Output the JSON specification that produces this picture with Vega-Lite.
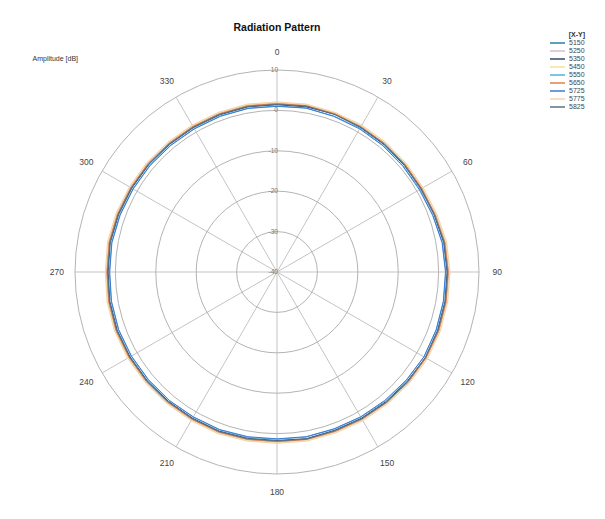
{
  "$schema": "https://vega.github.io/schema/vega-lite/v6.json",
  "width": 605,
  "height": 519,
  "autosize": "none",
  "padding": 0,
  "background": "white",
  "config": {"view": {"stroke": null}, "font": "Liberation Sans"},
  "title": {"text": "Radiation Pattern", "fontSize": 10.5, "fontWeight": "bold", "font": "Liberation Sans", "color": "#111", "anchor": "middle", "frame": "group", "orient": "top", "offset": 0, "baseline": "alphabetic", "dy": 41, "dx": -25.5},
  "datasets": {
    "levels": [{"v": 10}, {"v": 0}, {"v": -10}, {"v": -20}, {"v": -30}, {"v": -40}],
    "spokes": [{"a": 0}, {"a": 30}, {"a": 60}, {"a": 90}, {"a": 120}, {"a": 150}, {"a": 180}, {"a": 210}, {"a": 240}, {"a": 270}, {"a": 300}, {"a": 330}],
    "pattern": [
      {"a": 0, "5150": 1.6, "5250": 1.8, "5350": 1.4, "5450": 2.0, "5550": 1.1, "5650": 1.7, "5725": 1.0, "5775": 2.1, "5825": 1.5},
      {"a": 10, "5150": 1.7, "5250": 2.0, "5350": 1.5, "5450": 2.1, "5550": 1.2, "5650": 1.8, "5725": 1.2, "5775": 2.2, "5825": 1.7},
      {"a": 20, "5150": 1.6, "5250": 1.8, "5350": 1.6, "5450": 2.0, "5550": 1.1, "5650": 1.7, "5725": 1.0, "5775": 2.0, "5825": 1.5},
      {"a": 30, "5150": 1.5, "5250": 1.7, "5350": 1.3, "5450": 1.9, "5550": 1.1, "5650": 1.5, "5725": 0.9, "5775": 2.0, "5825": 1.4},
      {"a": 40, "5150": 1.3, "5250": 1.6, "5350": 1.2, "5450": 1.8, "5550": 0.9, "5650": 1.5, "5725": 0.8, "5775": 1.9, "5825": 1.3},
      {"a": 50, "5150": 1.3, "5250": 1.5, "5350": 1.1, "5450": 1.7, "5550": 0.8, "5650": 1.4, "5725": 0.7, "5775": 1.8, "5825": 1.2},
      {"a": 60, "5150": 1.3, "5250": 1.4, "5350": 1.2, "5450": 1.7, "5550": 0.9, "5650": 1.4, "5725": 0.7, "5775": 1.8, "5825": 1.1},
      {"a": 70, "5150": 1.6, "5250": 1.8, "5350": 1.4, "5450": 2.0, "5550": 1.1, "5650": 1.6, "5725": 1.0, "5775": 2.1, "5825": 1.5},
      {"a": 80, "5150": 2.1, "5250": 2.3, "5350": 1.9, "5450": 2.6, "5550": 1.6, "5650": 2.2, "5725": 1.5, "5775": 2.6, "5825": 2.0},
      {"a": 90, "5150": 2.3, "5250": 2.5, "5350": 2.1, "5450": 2.8, "5550": 1.8, "5650": 2.4, "5725": 1.7, "5775": 2.8, "5825": 2.2},
      {"a": 100, "5150": 2.4, "5250": 2.6, "5350": 2.2, "5450": 2.8, "5550": 1.9, "5650": 2.5, "5725": 1.8, "5775": 2.9, "5825": 2.3},
      {"a": 110, "5150": 2.5, "5250": 2.7, "5350": 2.3, "5450": 2.9, "5550": 2.0, "5650": 2.6, "5725": 1.9, "5775": 3.0, "5825": 2.4},
      {"a": 120, "5150": 2.5, "5250": 2.6, "5350": 2.4, "5450": 2.9, "5550": 2.0, "5650": 2.6, "5725": 2.0, "5775": 3.0, "5825": 2.4},
      {"a": 130, "5150": 2.3, "5250": 2.5, "5350": 2.1, "5450": 2.7, "5550": 1.8, "5650": 2.4, "5725": 1.7, "5775": 2.8, "5825": 2.2},
      {"a": 140, "5150": 2.1, "5250": 2.3, "5350": 1.9, "5450": 2.5, "5550": 1.7, "5650": 2.2, "5725": 1.5, "5775": 2.6, "5825": 2.1},
      {"a": 150, "5150": 2.0, "5250": 2.2, "5350": 1.8, "5450": 2.4, "5550": 1.5, "5650": 2.1, "5725": 1.4, "5775": 2.5, "5825": 1.9},
      {"a": 160, "5150": 1.9, "5250": 2.1, "5350": 1.7, "5450": 2.3, "5550": 1.4, "5650": 2.0, "5725": 1.3, "5775": 2.4, "5825": 1.8},
      {"a": 170, "5150": 2.0, "5250": 2.2, "5350": 1.9, "5450": 2.4, "5550": 1.5, "5650": 2.1, "5725": 1.4, "5775": 2.5, "5825": 2.0},
      {"a": 180, "5150": 1.9, "5250": 2.1, "5350": 1.7, "5450": 2.3, "5550": 1.4, "5650": 2.0, "5725": 1.3, "5775": 2.4, "5825": 1.8},
      {"a": 190, "5150": 2.0, "5250": 2.2, "5350": 1.8, "5450": 2.4, "5550": 1.6, "5650": 2.1, "5725": 1.4, "5775": 2.5, "5825": 1.9},
      {"a": 200, "5150": 2.1, "5250": 2.3, "5350": 1.9, "5450": 2.5, "5550": 1.6, "5650": 2.2, "5725": 1.5, "5775": 2.6, "5825": 2.0},
      {"a": 210, "5150": 2.0, "5250": 2.2, "5350": 1.8, "5450": 2.4, "5550": 1.5, "5650": 2.1, "5725": 1.4, "5775": 2.5, "5825": 1.9},
      {"a": 220, "5150": 2.0, "5250": 2.3, "5350": 1.8, "5450": 2.4, "5550": 1.5, "5650": 2.1, "5725": 1.5, "5775": 2.5, "5825": 1.9},
      {"a": 230, "5150": 2.1, "5250": 2.3, "5350": 1.9, "5450": 2.5, "5550": 1.6, "5650": 2.2, "5725": 1.5, "5775": 2.6, "5825": 2.0},
      {"a": 240, "5150": 2.2, "5250": 2.4, "5350": 2.0, "5450": 2.6, "5550": 1.7, "5650": 2.3, "5725": 1.6, "5775": 2.7, "5825": 2.1},
      {"a": 250, "5150": 2.3, "5250": 2.5, "5350": 2.1, "5450": 2.7, "5550": 1.8, "5650": 2.4, "5725": 1.7, "5775": 2.8, "5825": 2.2},
      {"a": 260, "5150": 2.2, "5250": 2.4, "5350": 2.0, "5450": 2.6, "5550": 1.7, "5650": 2.3, "5725": 1.6, "5775": 2.7, "5825": 2.1},
      {"a": 270, "5150": 2.0, "5250": 2.2, "5350": 1.8, "5450": 2.4, "5550": 1.5, "5650": 2.1, "5725": 1.4, "5775": 2.5, "5825": 1.9},
      {"a": 280, "5150": 2.1, "5250": 2.3, "5350": 1.9, "5450": 2.5, "5550": 1.6, "5650": 2.2, "5725": 1.5, "5775": 2.6, "5825": 2.0},
      {"a": 290, "5150": 1.9, "5250": 2.1, "5350": 1.7, "5450": 2.3, "5550": 1.4, "5650": 2.0, "5725": 1.3, "5775": 2.4, "5825": 1.8},
      {"a": 300, "5150": 1.7, "5250": 1.9, "5350": 1.5, "5450": 2.1, "5550": 1.2, "5650": 1.8, "5725": 1.1, "5775": 2.2, "5825": 1.6},
      {"a": 310, "5150": 1.6, "5250": 1.8, "5350": 1.4, "5450": 2.0, "5550": 1.1, "5650": 1.7, "5725": 1.0, "5775": 2.1, "5825": 1.5},
      {"a": 320, "5150": 1.5, "5250": 1.7, "5350": 1.3, "5450": 1.9, "5550": 1.0, "5650": 1.6, "5725": 0.9, "5775": 2.0, "5825": 1.4},
      {"a": 330, "5150": 1.5, "5250": 1.7, "5350": 1.3, "5450": 1.9, "5550": 1.0, "5650": 1.6, "5725": 0.9, "5775": 2.0, "5825": 1.4},
      {"a": 340, "5150": 1.6, "5250": 1.8, "5350": 1.4, "5450": 2.0, "5550": 1.1, "5650": 1.7, "5725": 1.0, "5775": 2.1, "5825": 1.5},
      {"a": 350, "5150": 1.7, "5250": 1.9, "5350": 1.5, "5450": 2.1, "5550": 1.2, "5650": 1.8, "5725": 1.1, "5775": 2.2, "5825": 1.6},
      {"a": 360, "5150": 1.6, "5250": 1.8, "5350": 1.4, "5450": 2.0, "5550": 1.1, "5650": 1.7, "5725": 1.0, "5775": 2.1, "5825": 1.5}
    ]
  },
  "layer": [
    {
      "data": {"name": "spokes"},
      "transform": [
        {"calculate": "50*sin(datum.a*PI/180)", "as": "ex"},
        {"calculate": "50*cos(datum.a*PI/180)", "as": "ey"},
        {"calculate": "0", "as": "z"}
      ],
      "mark": {"type": "rule", "color": "#c4c4c4", "strokeWidth": 1},
      "encoding": {
        "x": {"field": "ex", "type": "quantitative", "scale": {"domain": [-68.564, 81.188], "nice": false, "zero": false}, "axis": null},
        "y": {"field": "ey", "type": "quantitative", "scale": {"domain": [-61.139, 67.327], "nice": false, "zero": false}, "axis": {"title": "Amplitude [dB]", "labels": false, "ticks": false, "domain": false, "grid": false, "titleAngle": 0, "titleX": 32, "titleY": 58, "titleAlign": "left", "titleBaseline": "middle", "titleFontSize": 7, "titleFontWeight": "normal", "titleColor": "#333", "titleFont": "Liberation Sans"}},
        "x2": {"field": "z"},
        "y2": {"field": "z"}
      }
    },
    {
      "data": {"name": "levels"},
      "transform": [{"calculate": "0", "as": "z"}, {"calculate": "datum.v + 40", "as": "r"}],
      "mark": {"type": "point", "shape": "circle", "filled": false, "stroke": "#b4b4b4", "strokeWidth": 1, "opacity": 1},
      "encoding": {
        "x": {"field": "z", "type": "quantitative"},
        "y": {"field": "z", "type": "quantitative"},
        "size": {"field": "r", "type": "quantitative", "scale": {"type": "pow", "exponent": 2, "domain": [0, 50], "range": [0, 163216], "zero": true, "nice": false}, "legend": null}
      }
    },
    {
      "data": {"name": "spokes"},
      "transform": [
        {"calculate": "54.5*sin(datum.a*PI/180)", "as": "lx"},
        {"calculate": "54.5*cos(datum.a*PI/180)", "as": "ly"},
        {"calculate": "'' + datum.a", "as": "lab"}
      ],
      "mark": {"type": "text", "fontSize": 8.5, "color": "#444", "align": "center", "baseline": "middle", "font": "Liberation Sans"},
      "encoding": {
        "x": {"field": "lx", "type": "quantitative"},
        "y": {"field": "ly", "type": "quantitative"},
        "text": {"field": "lab", "type": "nominal"}
      }
    },
    {
      "data": {"name": "levels"},
      "transform": [{"calculate": "datum.v + 40", "as": "r"}, {"calculate": "0", "as": "z"}, {"calculate": "'' + datum.v", "as": "lab"}],
      "mark": {"type": "text", "fontSize": 6.5, "color": "#777", "align": "right", "baseline": "middle", "dx": 1, "font": "Liberation Sans"},
      "encoding": {
        "x": {"field": "z", "type": "quantitative"},
        "y": {"field": "r", "type": "quantitative"},
        "text": {"field": "lab", "type": "nominal"}
      }
    },
    {
      "data": {"name": "pattern"},
      "transform": [
        {"fold": ["5150", "5250", "5350", "5450", "5550", "5650", "5725", "5775", "5825"], "as": ["series", "dB"]},
        {"calculate": "(datum.dB + 40)*sin(datum.a*PI/180)", "as": "px"},
        {"calculate": "(datum.dB + 40)*cos(datum.a*PI/180)", "as": "py"}
      ],
      "mark": {"type": "line", "strokeWidth": 1},
      "encoding": {
        "x": {"field": "px", "type": "quantitative"},
        "y": {"field": "py", "type": "quantitative"},
        "order": {"field": "a", "type": "quantitative"},
        "color": {
          "field": "series", "type": "nominal",
          "scale": {"domain": ["5150", "5250", "5350", "5450", "5550", "5650", "5725", "5775", "5825"], "range": ["#2a7fa8", "#d6c0c8", "#34496b", "#f3e29a", "#4cb3e0", "#e0804a", "#3a7bd5", "#f6d3a8", "#5f6e84"]},
          "legend": {"title": "[X-Y]", "orient": "none", "legendX": 549, "legendY": 31, "titleFontSize": 7, "titleFontWeight": "bold", "titleFont": "Liberation Sans", "titleColor": "#333", "titleAnchor": "end", "titlePadding": 1, "labelFontSize": 7, "labelFont": "Liberation Sans", "labelColor": "#444", "labelOffset": 3, "symbolType": "stroke", "symbolSize": 225, "symbolStrokeWidth": 1.5, "clipHeight": 8, "rowPadding": 0, "padding": 0}
        }
      }
    }
  ]
}
